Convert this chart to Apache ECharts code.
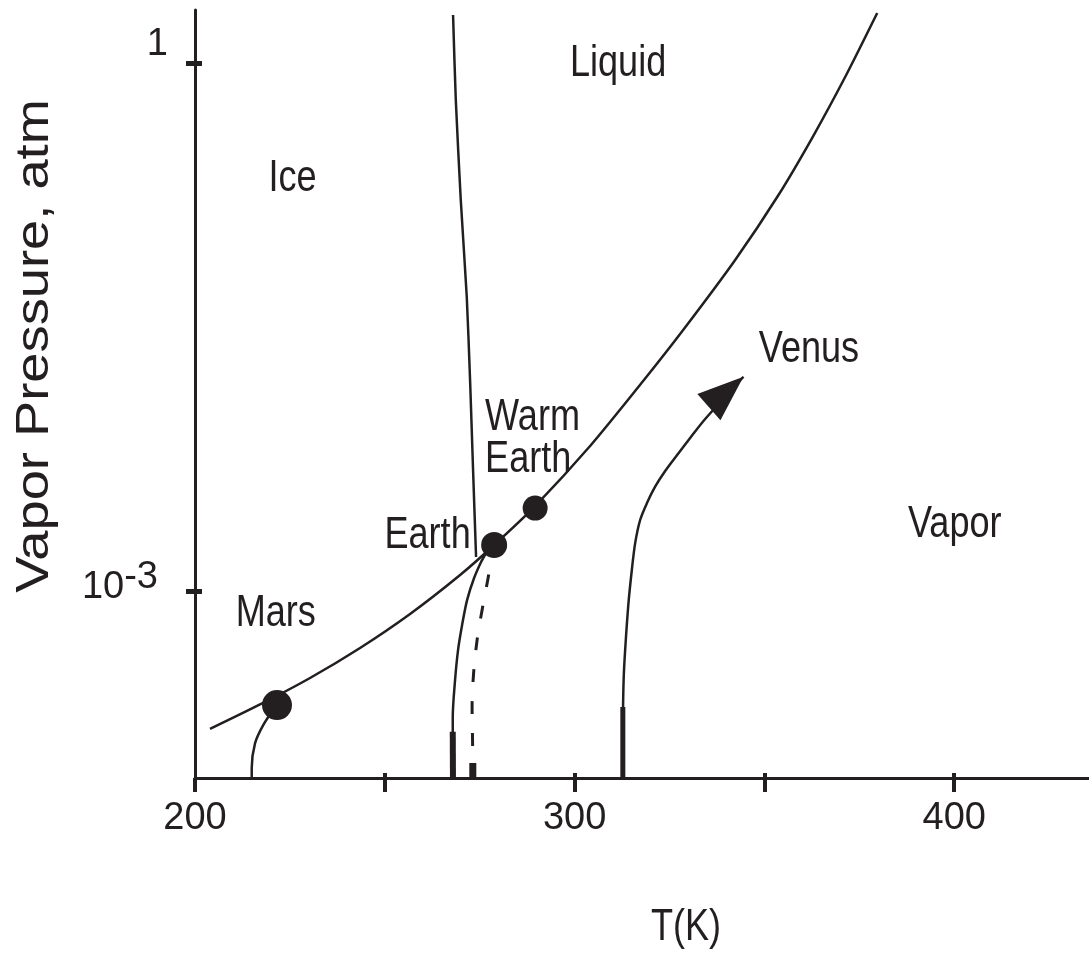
<!DOCTYPE html>
<html><head><meta charset="utf-8">
<script src="https://cdn.jsdelivr.net/npm/echarts@6/dist/echarts.min.js"></script>
<style>html,body{margin:0;padding:0;background:#fff}#chart{width:1089px;height:954px}</style>
</head><body><div id="chart"></div>
<script>
// ---- data (T in K, vapor pressure in atm) ----
const xTicks = [200, 250, 300, 350, 400];
const xTickLabels = [200, 300, 400];
const yTickLabels = [1, 0.001];
const tMin = 200, tMax = 435.5, pMin = 8.75e-5, pMax = 2;

const tempMain = [203.95, 217.13, 230.30, 243.48, 256.65, 269.83, 278.79, 289.59, 304.08, 318.05, 328.59, 342.29, 353.62, 362.85, 371.54, 379.71];
const presMain = [1.661e-4, 2.287e-4, 3.233e-4, 4.785e-4, 7.462e-4, 1.242e-3, 1.839e-3, 3.060e-3, 6.704e-3, 1.567e-2, 3.052e-2, 7.621e-2, 0.1770, 0.3852, 0.8549, 1.922];

const tempMelt = [267.98, 268.70, 270.01, 271.59, 272.46, 273.25, 274.04];
const presMelt = [1.873, 0.6166, 0.1669, 4.70e-2, 1.589e-2, 4.898e-3, 1.570e-3];

const tempEarth = [267.95, 267.9, 267.9, 268.51, 269.30, 270.36, 271.67, 273.52, 275.36, 276.68];
const presEarth = [8.75e-5, 1.346e-4, 1.94e-4, 3.15e-4, 4.67e-4, 6.46e-4, 8.95e-4, 1.194e-3, 1.472e-3, 1.656e-3];
const tempEarthBase = [267.95, 267.9];
const presEarthBase = [8.75e-5, 1.6e-4];

const tempDash = [273.18, 273.12, 272.99, 273.39, 274.31, 275.63, 277.21, 278.26];
const presDash = [8.75e-5, 1.400e-4, 2.213e-4, 3.45e-4, 5.31e-4, 7.87e-4, 1.194e-3, 1.614e-3];
const tempDashBase = [273.18, 273.18];
const presDashBase = [8.75e-5, 1.064e-4];

const tempMars = [214.94, 214.94, 215.81, 218.0, 221.0];
const presMars = [8.75e-5, 9.93e-5, 1.377e-4, 1.750e-4, 2.2e-4];

const tempVenus = [312.70, 312.73, 312.91, 313.31, 314.18, 315.07, 315.94, 317.26, 319.03, 321.21, 323.85, 327.01, 330.43, 334.39, 344.48];
const presVenus = [8.75e-5, 1.867e-4, 3.150e-4, 4.662e-4, 8.582e-4, 1.326e-3, 1.879e-3, 2.549e-3, 3.171e-3, 3.938e-3, 4.834e-3, 5.962e-3, 7.441e-3, 9.541e-3, 1.658e-2];
const tempVenusBase = [312.70, 312.70];
const presVenusBase = [8.75e-5, 2.213e-4];

const dotNames = ['Mars', 'Earth', 'Warm Earth'];
const dotT = [221.6, 278.8, 289.6];
const dotP = [2.27e-4, 1.837e-3, 2.979e-3];

const labelText = ['Ice', 'Liquid', 'Vapor', 'Venus', 'Earth', 'Mars', 'Warm\nEarth'];
const labelT = [225.69, 311.46, 400.13, 361.74, 261.27, 221.29, 276.42];
const labelP = [0.2198, 0.987, 2.377e-3, 2.35e-2, 2.075e-3, 7.447e-4, 7.345e-3];

// ---- styles ----
const INK = '#231f20';
const SANS = '"Liberation Sans", Arial, Helvetica, sans-serif';
const dotSizes = [30, 26, 25];
const zip = (t, p) => t.map((v, i) => [v, p[i]]);

function curve(t, p, width, extra) {
  return Object.assign({
    type: 'line', data: zip(t, p), symbol: 'none', smooth: 0.3, silent: true,
    lineStyle: { color: INK, width: width }, z: 3
  }, extra || {});
}

const chart = echarts.init(document.getElementById('chart'), null, { renderer: 'canvas' });
const baseX = { type: 'value', min: tMin, max: tMax, gridIndex: 0, position: 'bottom', splitLine: { show: false } };
const baseY = { type: 'log', logBase: 10, min: pMin, max: pMax, gridIndex: 0, position: 'left', splitLine: { show: false }, minorTick: { show: false } };
const LBL = 38;

const option = {
  animation: false,
  backgroundColor: '#fff',
  grid: { left: 195, right: 0, top: 10, bottom: 176 },
  xAxis: [
    Object.assign({}, baseX, {
      axisLine: { show: true, lineStyle: { color: INK, width: 3 } },
      axisTick: { show: true, length: 14, customValues: xTicks, lineStyle: { color: INK, width: 4 } },
      axisLabel: { show: true, customValues: xTickLabels, margin: 22, color: INK, fontFamily: SANS, fontSize: LBL }
    }),
    Object.assign({}, baseX, {
      axisLine: { show: false },
      axisTick: { show: true, inside: true, length: 5, customValues: xTicks.slice(1), lineStyle: { color: INK, width: 4 } },
      axisLabel: { show: false }
    })
  ],
  yAxis: [
    Object.assign({}, baseY, {
      axisLine: { show: true, lineStyle: { color: INK, width: 3 } },
      axisTick: { show: true, length: 9, customValues: yTickLabels, lineStyle: { color: INK, width: 5 } },
      axisLabel: {
        show: true, customValues: yTickLabels, margin: 27, color: INK, fontFamily: SANS, fontSize: LBL,
        formatter: function (v) { return v > 0.5 ? '{one|1}' : '{ten|10}{exp|-3}'; },
        rich: {
          one: { fontFamily: SANS, fontSize: LBL, color: INK, padding: [0, 0, 37, 0], verticalAlign: 'middle' },
          ten: { fontFamily: SANS, fontSize: LBL, color: INK, padding: [0, 0, 8, 0], verticalAlign: 'middle' },
          exp: { fontFamily: SANS, fontSize: LBL, color: INK, padding: [0, 10, 28, 0], verticalAlign: 'middle' }
        }
      }
    }),
    Object.assign({}, baseY, {
      axisLine: { show: false },
      axisTick: { show: true, inside: true, length: 7, customValues: yTickLabels, lineStyle: { color: INK, width: 5 } },
      axisLabel: { show: false }
    })
  ],
  series: [
    curve(tempMain, presMain, 2.5, { smooth: 0.25 }),
    curve(tempMelt, presMelt, 2.5, { smooth: 0.2 }),
    curve(tempEarth, presEarth, 2.5),
    curve(tempEarthBase, presEarthBase, 6, { smooth: false }),
    curve(tempDash, presDash, 3, { lineStyle: { color: INK, width: 3, type: [13, 19] } }),
    curve(tempDashBase, presDashBase, 7, { smooth: false }),
    curve(tempMars, presMars, 2.5),
    curve(tempVenus, presVenus, 2.5, { smooth: 0.3 }),
    curve(tempVenusBase, presVenusBase, 5, { smooth: false }),
    {
      type: 'scatter', silent: true, z: 5,
      data: [{ value: [tempVenus[tempVenus.length - 1], presVenus[presVenus.length - 1]] }],
      symbol: 'triangle', symbolSize: [35, 46], symbolRotate: -48.7, symbolOffset: [-17.3, 15.2],
      itemStyle: { color: INK, opacity: 1 }
    },
    {
      type: 'scatter', silent: true, z: 6,
      data: dotNames.map((n, i) => ({ name: n, value: [dotT[i], dotP[i]], symbolSize: dotSizes[i] })),
      symbol: 'circle', itemStyle: { color: INK, opacity: 1 }
    }
  ],
  graphic: [
    { type: 'text', id: 'ytitle', x: 35, y: 346, rotation: Math.PI / 2, scaleX: 1.18, silent: true,
      style: { text: 'Vapor Pressure, atm', fill: INK, font: '46px ' + SANS,
               align: 'center', verticalAlign: 'middle' } },
    { type: 'text', id: 'xtitle', x: 686, y: 928, scaleX: 0.82, silent: true,
      style: { text: 'T(K)', fill: INK, font: '44px ' + SANS,
               align: 'center', verticalAlign: 'middle' } }
  ]
};
chart.setOption(option);

// region annotations placed at data coordinates through the chart's own axes
const annot = labelText.map((s, i) => {
  const pt = chart.convertToPixel({ xAxisIndex: 0, yAxisIndex: 0 }, [labelT[i], labelP[i]]);
  const multi = s.indexOf('\n') >= 0;
  return {
    type: 'text', id: 'lbl' + i, x: pt[0], y: pt[1], scaleX: 0.82, silent: true, z: 10,
    style: { text: s, fill: INK, font: '44px ' + SANS, lineHeight: 42,
             align: multi ? 'left' : 'center', verticalAlign: 'middle' }
  };
});
chart.setOption({ graphic: annot });
</script>
</body></html>
